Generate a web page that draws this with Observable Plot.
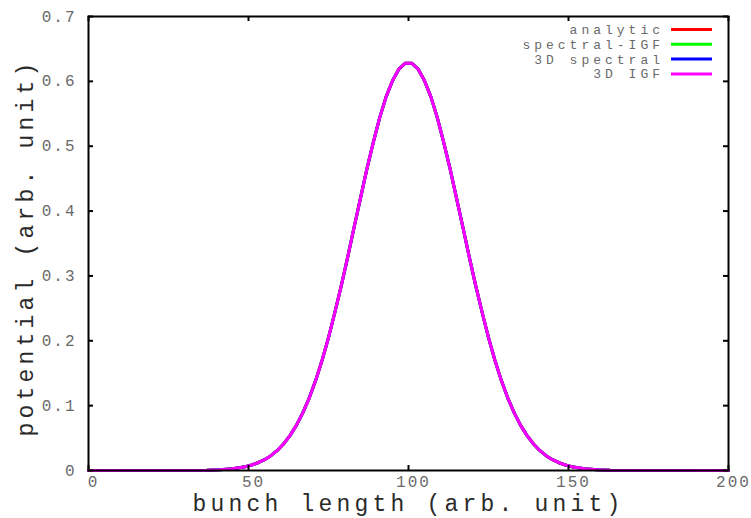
<!DOCTYPE html>
<html>
<head>
<meta charset="utf-8">
<script src="https://cdn.jsdelivr.net/npm/d3@7"></script>
<script src="https://cdn.jsdelivr.net/npm/@observablehq/plot@0.6"></script>
<style>
  html, body { margin: 0; padding: 0; background: #fff; }
  #chart svg { display: block; }
</style>
</head>
<body>
<div id="chart"></div>
<script>
// Solver names and their line colours (drawn in this order, last on top)
const seriesNames = ["analytic", "spectral-IGF", "3D spectral", "3D IGF"];
const seriesColors = ["#ff0000", "#00ff00", "#0000ff", "#ff00ff"];

// Sample positions along the bunch (arb. unit)
const bunchLength = [
  0, 37, 39, 41, 43, 45, 47, 49, 51, 53, 55, 57, 59, 61, 63, 65, 67, 69, 71, 73,
  75, 77, 79, 81, 83, 85, 87, 89, 91, 93, 95, 97, 99, 101, 103, 105, 107, 109,
  111, 113, 115, 117, 119, 121, 123, 125, 127, 129, 131, 133, 135, 137, 139, 141,
  143, 145, 147, 149, 151, 153, 155, 157, 159, 161, 163, 200
];

// Potential on the axis; the four solvers agree to line width
const potential = [
  0, 0.0005, 0.0008, 0.0012, 0.0019, 0.0028, 0.0041, 0.0059, 0.0085, 0.0120,
  0.0167, 0.0229, 0.0309, 0.0412, 0.0541, 0.0700, 0.0893, 0.112, 0.139, 0.170,
  0.205, 0.244, 0.285, 0.329, 0.375, 0.420, 0.465, 0.506, 0.544, 0.576, 0.601,
  0.619, 0.628, 0.628, 0.619, 0.601, 0.576, 0.544, 0.506, 0.465, 0.420, 0.375,
  0.329, 0.285, 0.244, 0.205, 0.170, 0.139, 0.112, 0.0893, 0.0700, 0.0541,
  0.0412, 0.0309, 0.0229, 0.0167, 0.0120, 0.0085, 0.0059, 0.0041, 0.0028,
  0.0019, 0.0012, 0.0008, 0.0005, 0
];
const analytic = potential;
const spectralIGF = potential;
const spectral3D = potential;
const igf3D = potential;
const seriesValues = [analytic, spectralIGF, spectral3D, igf3D];

// Axis ticks and titles
const xTicks = [0, 50, 100, 150, 200];
const yTicks = [0, 0.1, 0.2, 0.3, 0.4, 0.5, 0.6, 0.7];
const xTitle = "bunch length (arb. unit)";
const yTitle = "potential (arb. unit)";

const rows = seriesNames.flatMap((s, k) =>
  bunchLength.map((x, i) => ({series: s, x, y: seriesValues[k][i]}))
);

const W = 751, H = 518;
const M = {left: 88, right: 23, top: 16, bottom: 48};
const frameW = W - M.left - M.right;
const frameH = H - M.top - M.bottom;
const tickLen = 5;

const font = "'Liberation Mono', 'DejaVu Sans Mono', monospace";
const tickGray = "#6a6a6a";
const titleColor = "#2a2a2a";
const yFormat = (d) => (d === 0 ? "0" : d.toFixed(1));

const chart = Plot.plot({
  width: W,
  height: H,
  marginLeft: M.left,
  marginRight: M.right,
  marginTop: M.top,
  marginBottom: M.bottom,
  x: {domain: [0, 200], axis: null},
  y: {domain: [0, 0.7], axis: null},
  color: {domain: seriesNames, range: seriesColors},
  style: {fontFamily: font, background: "#fff", letterSpacing: "2px"},
  marks: [
    Plot.line(rows, {x: "x", y: "y", z: "series", stroke: "series", strokeWidth: 3}),
    Plot.frame({stroke: "#000", strokeWidth: 2}),
    // short inward ticks on all four sides
    Plot.tickX(xTicks, {x: (d) => d, insetTop: frameH - tickLen, stroke: "#000", strokeWidth: 2}),
    Plot.tickX(xTicks, {x: (d) => d, insetBottom: frameH - tickLen, stroke: "#000", strokeWidth: 2}),
    Plot.tickY(yTicks, {y: (d) => d, insetRight: frameW - tickLen, stroke: "#000", strokeWidth: 2}),
    Plot.tickY(yTicks, {y: (d) => d, insetLeft: frameW - tickLen, stroke: "#000", strokeWidth: 2}),
    // tick labels
    Plot.text(xTicks, {x: (d) => d, text: (d) => String(d), frameAnchor: "bottom", lineAnchor: "middle", dx: 5, dy: 11.5, fontSize: 16, fill: tickGray}),
    Plot.text(yTicks, {y: (d) => d, text: yFormat, frameAnchor: "left", dx: -12, textAnchor: "end", fontSize: 16, fill: tickGray}),
    // axis titles
    Plot.text([xTitle], {frameAnchor: "bottom", lineAnchor: "middle", dy: 33.2, text: (d) => d, fontSize: 23, fill: titleColor}),
    Plot.text([yTitle], {frameAnchor: "left", textAnchor: "middle", lineAnchor: "middle", dx: -63, dy: 4, rotate: -90, text: (d) => d, fontSize: 23, fill: titleColor})
  ]
});

// wider tracking for the two axis titles
d3.select(chart).selectAll("text")
  .filter(function () { return this.textContent === xTitle || this.textContent === yTitle; })
  .style("letter-spacing", "4.2px");

// Key in the upper-right corner of the frame
const svg = d3.select(chart);
const key = svg.append("g").attr("font-family", font).attr("font-size", 13).style("letter-spacing", "4px");
seriesNames.forEach((name, i) => {
  const y = 29.5 + 14.8 * i;
  key.append("text")
    .attr("x", 664).attr("y", y).attr("dy", "0.35em")
    .attr("text-anchor", "end").attr("fill", tickGray)
    .text(name);
  key.append("line")
    .attr("x1", 671).attr("x2", 712).attr("y1", y).attr("y2", y)
    .attr("stroke", seriesColors[i]).attr("stroke-width", 3);
});

document.getElementById("chart").append(chart);
</script>
</body>
</html>
